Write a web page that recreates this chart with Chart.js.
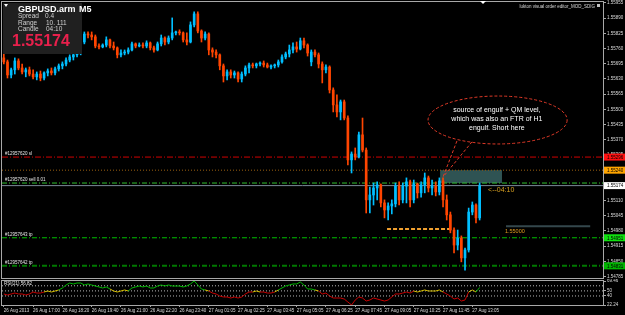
<!DOCTYPE html>
<html>
<head>
<meta charset="utf-8">
<script src="https://cdn.jsdelivr.net/npm/chart.js@4.4.1/dist/chart.umd.min.js"></script>
<style>
  html, body { margin:0; padding:0; background:#000; }
  #wrap { position:relative; width:625px; height:315px; overflow:hidden; background:#000; }
  canvas { position:absolute; left:0; }
  #main { top:0; }
  #rsi { top:279px; }
</style>
</head>
<body>
<div id="wrap">
  <canvas id="main" width="625" height="279"></canvas>
  <canvas id="rsi" width="625" height="36"></canvas>
</div>
<script>
// ---------------- DATA (GBPUSD.arm, 10-minute candles) ----------------
const opens = [1.55720,1.55703,1.55647,1.55669,1.55707,1.55677,1.55660,1.55669,1.55651,1.55639,
1.55651,1.55634,1.55656,1.55664,1.55656,1.55673,1.55686,1.55694,1.55711,1.55724,
1.55733,1.55745,1.55788,1.55822,1.55818,1.55810,1.55771,1.55767,1.55775,1.55797,
1.55771,1.55763,1.55733,1.55741,1.55745,1.55754,1.55780,1.55771,1.55775,1.55771,
1.55784,1.55763,1.55754,1.55780,1.55805,1.55788,1.55805,1.55827,1.55831,1.55827,
1.55797,1.55788,1.55861,1.55908,1.55835,1.55805,1.55822,1.55754,1.55745,1.55733,
1.55686,1.55643,1.55660,1.55647,1.55656,1.55630,1.55651,1.55677,1.55690,1.55686,
1.55694,1.55698,1.55690,1.55681,1.55686,1.55690,1.55703,1.55724,1.55737,1.55754,
1.55767,1.55758,1.55793,1.55775,1.55703,1.55745,1.55733,1.55694,1.55669,1.55681,
1.55583,1.55519,1.55489,1.55532,1.55463,1.55284,1.55309,1.55297,1.55391,1.55326,
1.55113,1.55134,1.55164,1.55177,1.55100,1.55070,1.55087,1.55096,1.55172,1.55113,
1.55172,1.55190,1.55113,1.55181,1.55143,1.55177,1.55207,1.55164,1.55172,1.55147,
1.55194,1.55113,1.55049,1.54984,1.54920,1.54950,1.54865,1.54899,1.55061,1.55091,
1.55036];
const highs = [1.55737,1.55711,1.55677,1.55720,1.55716,1.55694,1.55677,1.55681,1.55669,1.55660,
1.55664,1.55660,1.55673,1.55677,1.55681,1.55694,1.55703,1.55720,1.55733,1.55741,
1.55754,1.55810,1.55831,1.55831,1.55831,1.55818,1.55780,1.55780,1.55810,1.55801,
1.55788,1.55767,1.55754,1.55754,1.55763,1.55788,1.55784,1.55784,1.55784,1.55793,
1.55788,1.55771,1.55788,1.55818,1.55810,1.55814,1.55891,1.55835,1.55840,1.55831,
1.55827,1.55874,1.55917,1.55917,1.55840,1.55831,1.55827,1.55763,1.55754,1.55737,
1.55694,1.55669,1.55669,1.55664,1.55660,1.55660,1.55686,1.55698,1.55698,1.55698,
1.55703,1.55707,1.55698,1.55690,1.55694,1.55711,1.55733,1.55745,1.55775,1.55784,
1.55788,1.55805,1.55805,1.55780,1.55754,1.55754,1.55741,1.55703,1.55690,1.55686,
1.55592,1.55562,1.55540,1.55540,1.55472,1.55318,1.55335,1.55403,1.55463,1.55335,
1.55168,1.55185,1.55190,1.55181,1.55113,1.55100,1.55113,1.55185,1.55190,1.55185,
1.55207,1.55198,1.55198,1.55185,1.55190,1.55228,1.55215,1.55198,1.55190,1.55207,
1.55207,1.55134,1.55061,1.54993,1.54984,1.54959,1.54907,1.55078,1.55104,1.55096,
1.55185];
const lows = [1.55694,1.55634,1.55634,1.55651,1.55669,1.55651,1.55639,1.55643,1.55630,1.55626,
1.55622,1.55626,1.55643,1.55647,1.55647,1.55664,1.55673,1.55686,1.55703,1.55711,
1.55724,1.55733,1.55780,1.55805,1.55797,1.55763,1.55758,1.55763,1.55767,1.55763,
1.55754,1.55720,1.55724,1.55733,1.55737,1.55750,1.55763,1.55767,1.55763,1.55763,
1.55754,1.55745,1.55750,1.55771,1.55775,1.55780,1.55797,1.55818,1.55818,1.55788,
1.55775,1.55784,1.55852,1.55827,1.55788,1.55797,1.55733,1.55724,1.55720,1.55669,
1.55617,1.55626,1.55634,1.55634,1.55617,1.55617,1.55643,1.55656,1.55677,1.55677,
1.55686,1.55681,1.55677,1.55673,1.55677,1.55681,1.55698,1.55716,1.55724,1.55741,
1.55745,1.55754,1.55763,1.55728,1.55686,1.55724,1.55677,1.55613,1.55656,1.55570,
1.55489,1.55468,1.55455,1.55455,1.55262,1.55228,1.55284,1.55292,1.55318,1.55057,
1.55057,1.55091,1.55113,1.55083,1.55036,1.55027,1.55053,1.55083,1.55091,1.55100,
1.55100,1.55083,1.55100,1.55121,1.55125,1.55143,1.55147,1.55134,1.55130,1.55134,
1.55083,1.55027,1.54972,1.54886,1.54899,1.54848,1.54813,1.54890,1.55049,1.55014,
1.55027];
const closes = [1.55703,1.55647,1.55669,1.55707,1.55677,1.55660,1.55669,1.55651,1.55639,1.55651,
1.55634,1.55656,1.55664,1.55656,1.55673,1.55686,1.55694,1.55711,1.55724,1.55733,
1.55745,1.55788,1.55822,1.55818,1.55810,1.55771,1.55767,1.55775,1.55797,1.55771,
1.55763,1.55733,1.55741,1.55745,1.55754,1.55780,1.55771,1.55775,1.55771,1.55784,
1.55763,1.55754,1.55780,1.55805,1.55788,1.55805,1.55827,1.55831,1.55827,1.55797,
1.55788,1.55861,1.55908,1.55835,1.55805,1.55822,1.55754,1.55745,1.55733,1.55686,
1.55643,1.55660,1.55647,1.55656,1.55630,1.55651,1.55677,1.55690,1.55686,1.55694,
1.55698,1.55690,1.55681,1.55686,1.55690,1.55703,1.55724,1.55737,1.55754,1.55767,
1.55758,1.55793,1.55775,1.55741,1.55745,1.55733,1.55694,1.55669,1.55681,1.55583,
1.55519,1.55489,1.55532,1.55463,1.55284,1.55309,1.55297,1.55391,1.55326,1.55113,
1.55134,1.55164,1.55177,1.55100,1.55070,1.55087,1.55096,1.55172,1.55113,1.55172,
1.55190,1.55113,1.55181,1.55143,1.55177,1.55207,1.55164,1.55172,1.55147,1.55194,
1.55113,1.55049,1.54984,1.54920,1.54950,1.54865,1.54899,1.55061,1.55091,1.55036,
1.55174];
const rsiValues = [43.9,41.9,43.9,45.8,43.9,43.9,41.9,43.9,47.8,45.8,
45.8,47.8,49.8,47.8,49.8,51.8,55.7,61.6,65.5,63.6,
65.5,65.5,61.6,63.6,61.6,59.6,57.7,55.7,57.7,53.7,
49.8,47.8,49.8,51.8,49.8,55.7,57.7,59.6,57.7,59.6,
55.7,55.7,59.6,61.6,59.6,61.6,59.6,59.6,59.6,57.7,
59.6,63.6,69.46,61.6,53.7,51.8,49.8,45.8,43.9,39.9,
38.0,38.0,36.0,38.0,36.0,38.0,43.9,47.8,47.8,49.8,
47.8,47.8,45.8,45.8,47.8,51.8,55.7,59.6,61.6,63.6,
63.6,67.5,61.6,53.7,53.7,51.8,49.8,43.9,45.8,39.9,
36.0,36.0,36.0,34.0,28.1,22.24,32.1,38.0,36.0,30.1,
32.1,36.0,34.0,32.1,30.1,32.1,38.0,43.9,43.9,45.8,
47.8,45.8,49.8,47.8,49.8,51.8,49.8,49.8,49.8,51.8,
47.8,43.9,39.9,34.0,36.0,30.1,32.1,47.8,51.8,47.8,
56.82];
const timeLabels = ['26 Aug 2013','26 Aug 17:00','26 Aug 18:20','26 Aug 19:40','26 Aug 21:00','26 Aug 22:20',
  '26 Aug 23:40','27 Aug 01:05','27 Aug 02:25','27 Aug 03:45','27 Aug 05:05','27 Aug 06:25','27 Aug 07:45',
  '27 Aug 09:05','27 Aug 10:25','27 Aug 11:45','27 Aug 13:05'];
const labelEvery = 8;
const priceTicks = [1.55955,1.55890,1.55825,1.55760,1.55695,1.55630,1.55565,1.55500,1.55435,1.55370,
  1.55305,1.55240,1.55175,1.55110,1.55045,1.54980,1.54915,1.54850,1.54785];
const priceRange = [1.54779, 1.55959];
const rsiRange = [22.24, 69.46];
const rsiTicks = [69.46, 50, 40, 22.24];
const rsiLevels = [60, 50, 40];
const orderPrices = [1.55296, 1.55240, 1.55185, 1.55174, 1.54951, 1.54831];
const orderNames = ['#12957620 sl', '', '#12957620 sell 0.01', '', '#12957643 tp', '#12957642 tp'];
const tagPrices = [1.55296, 1.55240, 1.55174, 1.54951, 1.54831];
const bubbleText = ['source of engulf + QM level,', 'which was also an FTR of H1', 'engulf. Short here'];
const zonePrices = [1.55185, 1.55240];
const zoneBars = [119.2, 136.1];
const trendPrice = 1.54989;
const trendBars = [104.7, 121.9];
const roundPrice = 1.55000;
const roundBars = [137.2, 160.2];

// ---------------- STYLE / LAYOUT ----------------
const FONT = '"Liberation Sans", Arial, sans-serif';
const FRAME = '#a8a8a8';
const UP = '#00bfff', DOWN = '#ff4500';
const X_MIN = -0.5, X_MAX = 163.7;
const orderStyles = [
  {color:'#d00000', dash:[6,2,1,2], width:1},
  {color:'#9a6010', dash:[1,2], width:1},
  {color:'#30c030', dash:[5,2,1,2], width:1},
  {color:'#7a8898', dash:[], width:1},
  {color:'#00c000', dash:[5,2,1,2], width:1},
  {color:'#007800', dash:[5,2,1,2], width:2}
];
const tagColors = ['#ff1010', '#ffa500', '#ffffff', '#10e010', '#00b400'];
const ANN = {
  bubble: {x:[115.9, 153.9], y:[1.55557, 1.55352], tailBase:[[123.8,1.55365],[127.9,1.55361]], tip:[120.0,1.55211],
           textX:134.7, textY:[1.55495, 1.55457, 1.55420]},
  timer: {x:132.3, y:1.55153, text:'<--04:10'},
  roundLabel: {x:136.9, y:1.54990}
};

const isUp = closes.map((c, i) => c >= opens[i]);
const colors = isUp.map(u => u ? UP : DOWN);
const wickData = closes.map((c, i) => ({x: i, y: [lows[i], highs[i]]}));
const bodyData = closes.map((c, i) => ({x: i, y: [Math.min(opens[i], c), Math.max(opens[i], c)]}));

function hSeg(price, x0, x1, st, order) {
  return {type:'line', data:[{x:x0, y:price}, {x:x1, y:price}], borderColor:st.color, borderWidth:st.width,
          borderDash:st.dash, pointRadius:0, order:order, tension:0};
}

const datasets = [
  {type:'bar', data:wickData, backgroundColor:colors, barThickness:1, grouped:false, borderWidth:0, order:0},
  {type:'bar', data:bodyData, backgroundColor:colors, barThickness:2, grouped:false, borderWidth:0, minBarLength:1, order:0}
];
orderPrices.forEach((p, k) => datasets.push(hSeg(p, X_MIN, X_MAX, orderStyles[k], 2)));
datasets.push(hSeg(trendPrice, trendBars[0], trendBars[1], {color:'#f0a030', dash:[4,2], width:2}, 1));
datasets.push(hSeg(roundPrice, roundBars[0], roundBars[1], {color:'#34474c', dash:[], width:2}, 1));

const mainOverlay = {
  id: 'mainOverlay',
  beforeDatasetsDraw(chart) {
    const {ctx, scales:{x, y}} = chart;
    const x0 = x.getPixelForValue(zoneBars[0]), x1 = x.getPixelForValue(zoneBars[1]);
    const y0 = y.getPixelForValue(zonePrices[1]), y1 = y.getPixelForValue(zonePrices[0]);
    ctx.save();
    ctx.fillStyle = '#2f5353';
    ctx.fillRect(x0, y0, x1 - x0, y1 - y0);
    ctx.restore();
  },
  afterDraw(chart) {
    const {ctx, chartArea:a, scales:{x, y}} = chart;
    ctx.save();
    // frame
    ctx.strokeStyle = FRAME; ctx.lineWidth = 1; ctx.setLineDash([]);
    ctx.strokeRect(a.left - 0.5, a.top - 0.5, a.right - a.left + 1, a.bottom - a.top + 1);
    // order labels
    ctx.font = '4.5px ' + FONT; ctx.fillStyle = '#e6e6e6'; ctx.textAlign = 'left'; ctx.textBaseline = 'bottom';
    orderPrices.forEach((p, k) => { if (orderNames[k]) ctx.fillText(orderNames[k], a.left + 3, y.getPixelForValue(p) - 1); });
    // bubble
    const b = ANN.bubble;
    const bx0 = x.getPixelForValue(b.x[0]), bx1 = x.getPixelForValue(b.x[1]);
    const by0 = y.getPixelForValue(b.y[0]), by1 = y.getPixelForValue(b.y[1]);
    ctx.strokeStyle = '#e03a28'; ctx.lineWidth = 1; ctx.setLineDash([3, 2]);
    ctx.beginPath();
    ctx.ellipse((bx0 + bx1) / 2, (by0 + by1) / 2, (bx1 - bx0) / 2, (by1 - by0) / 2, 0, 0, Math.PI * 2);
    ctx.stroke();
    const tx = x.getPixelForValue(b.tip[0]), ty = y.getPixelForValue(b.tip[1]);
    b.tailBase.forEach(pt => {
      ctx.beginPath();
      ctx.moveTo(x.getPixelForValue(pt[0]), y.getPixelForValue(pt[1]));
      ctx.lineTo(tx, ty);
      ctx.stroke();
    });
    ctx.setLineDash([]);
    ctx.fillStyle = '#ffffff'; ctx.font = '7px ' + FONT; ctx.textAlign = 'center'; ctx.textBaseline = 'middle';
    bubbleText.forEach((t, k) => ctx.fillText(t, x.getPixelForValue(b.textX), y.getPixelForValue(b.textY[k])));
    // timer text
    ctx.fillStyle = '#d8a020'; ctx.font = '7px ' + FONT; ctx.textAlign = 'left';
    ctx.fillText(ANN.timer.text, x.getPixelForValue(ANN.timer.x), y.getPixelForValue(ANN.timer.y));
    // round number label
    ctx.font = '5.5px ' + FONT; ctx.textBaseline = 'top'; ctx.fillStyle = '#e09a20';
    ctx.fillText(roundPrice.toFixed(5), x.getPixelForValue(ANN.roundLabel.x), y.getPixelForValue(ANN.roundLabel.y));
    // price tags on the axis
    ctx.font = '4.5px ' + FONT; ctx.textBaseline = 'middle';
    tagPrices.forEach((p, k) => {
      const py = y.getPixelForValue(p);
      ctx.fillStyle = tagColors[k];
      ctx.fillRect(a.right + 1, py - 3.5, 625 - a.right - 1, 7);
      ctx.fillStyle = '#000000';
      ctx.fillText(p.toFixed(5), a.right + 4, py + 0.5);
    });
    // info box
    ctx.fillStyle = '#202020'; ctx.fillRect(3, 3, 79, 51);
    ctx.fillStyle = '#ffffff';
    ctx.beginPath(); ctx.moveTo(4, 4); ctx.lineTo(8, 4); ctx.lineTo(6, 7); ctx.closePath(); ctx.fill();
    ctx.textBaseline = 'alphabetic'; ctx.textAlign = 'left';
    ctx.font = 'bold 9px ' + FONT; ctx.fillText('GBPUSD.arm', 18, 12); ctx.fillText('M5', 79, 12);
    ctx.fillStyle = '#cfcfcf'; ctx.font = '6.5px ' + FONT;
    ctx.fillText('Spread', 18, 18); ctx.fillText('0.4', 45, 18);
    ctx.fillText('Range', 18, 24.5); ctx.fillText('10. 111', 46, 24.5);
    ctx.fillText('Candle', 18, 31); ctx.fillText('04:10', 46, 31);
    ctx.fillStyle = '#e8204c'; ctx.font = 'bold 16px ' + FONT;
    ctx.fillText(closes[closes.length - 1].toFixed(5), 12, 45.5);
    // top texts
    ctx.fillStyle = '#d8d8d8'; ctx.font = '4.5px ' + FONT; ctx.textAlign = 'right';
    ctx.fillText('lukton visual order editor_MOD_SDIG', 595, 7.5);
    ctx.fillStyle = '#c0c0c0'; ctx.fillRect(597, 4, 3, 3);
    ctx.fillStyle = '#ffffff';
    ctx.beginPath(); ctx.moveTo(480, 1); ctx.lineTo(486, 1); ctx.lineTo(483, 4); ctx.closePath(); ctx.fill();
    ctx.restore();
  }
};

new Chart(document.getElementById('main'), {
  type: 'bar',
  data: {datasets},
  options: {
    responsive: false, animation: false, devicePixelRatio: 1,
    layout: {padding: {left: 2, top: 2, bottom: 1, right: 0}},
    plugins: {legend: {display: false}, tooltip: {enabled: false}},
    scales: {
      x: {type: 'linear', min: X_MIN, max: X_MAX, display: false, offset: false},
      y: {
        type: 'linear', position: 'right', min: priceRange[0], max: priceRange[1],
        afterBuildTicks: s => { s.ticks = priceTicks.map(v => ({value: v})); },
        afterFit: s => { s.width = 22; s.paddingTop = 0; s.paddingBottom = 0; },
        ticks: {callback: v => Number(v).toFixed(5), color: '#dcdcdc', font: {family: FONT, size: 4.5}, padding: 1, autoSkip: false},
        grid: {drawOnChartArea: false, drawTicks: true, tickLength: 3, color: FRAME},
        border: {display: true, color: FRAME}
      }
    }
  },
  plugins: [mainOverlay]
});

// ---------------- RSI sub-window ----------------
function rsiColor(ctx) {
  const v = (ctx.p0.parsed.y + ctx.p1.parsed.y) / 2;
  return v > 52 ? '#00b800' : (v < 48 ? '#c80000' : '#d8c000');
}
const rsiDatasets = [
  {data: rsiValues.map((v, i) => ({x: i, y: v})), borderColor: '#00b800', borderWidth: 1, pointRadius: 0,
   segment: {borderColor: rsiColor}, order: 0, tension: 0}
];
rsiLevels.forEach(l => rsiDatasets.push({data: [{x: X_MIN, y: l}, {x: X_MAX, y: l}], borderColor: '#b8b8b8',
  borderDash: [1, 2], borderWidth: 1, pointRadius: 0, order: 1}));

const rsiOverlay = {
  id: 'rsiOverlay',
  afterDraw(chart) {
    const {ctx, chartArea: a} = chart;
    ctx.save();
    ctx.strokeStyle = FRAME; ctx.lineWidth = 1;
    ctx.strokeRect(a.left - 0.5, a.top - 0.5, a.right - a.left + 1, a.bottom - a.top + 1);
    ctx.fillStyle = '#e8e8e8'; ctx.font = '4.5px ' + FONT; ctx.textBaseline = 'top'; ctx.textAlign = 'left';
    ctx.fillText('RSI(21) ' + rsiValues[rsiValues.length - 1].toFixed(2), a.left + 2, a.top + 1);
    ctx.restore();
  }
};

new Chart(document.getElementById('rsi'), {
  type: 'line',
  data: {datasets: rsiDatasets},
  options: {
    responsive: false, animation: false, devicePixelRatio: 1,
    layout: {padding: {left: 2, top: 2, bottom: 0, right: 0}},
    plugins: {legend: {display: false}, tooltip: {enabled: false}},
    scales: {
      x: {
        type: 'linear', min: X_MIN, max: X_MAX, offset: false,
        afterBuildTicks: s => { s.ticks = timeLabels.map((t, k) => ({value: k * labelEvery})); },
        afterFit: s => { s.height = 10; s.paddingLeft = 0; s.paddingRight = 0; },
        ticks: {callback: v => timeLabels[Math.round(v / labelEvery)], align: 'start', maxRotation: 0, minRotation: 0,
                autoSkip: false, color: '#dcdcdc', font: {family: FONT, size: 4.5}, padding: 1},
        grid: {drawOnChartArea: false, drawTicks: true, tickLength: 2, color: FRAME},
        border: {display: true, color: FRAME}
      },
      y: {
        type: 'linear', position: 'right', min: rsiRange[0], max: rsiRange[1],
        afterBuildTicks: s => { s.ticks = rsiTicks.map(v => ({value: v})); },
        afterFit: s => { s.width = 22; s.paddingTop = 0; s.paddingBottom = 0; },
        ticks: {callback: v => (Number.isInteger(v) ? String(v) : Number(v).toFixed(2)), color: '#dcdcdc',
                font: {family: FONT, size: 4.5}, padding: 1, autoSkip: false},
        grid: {drawOnChartArea: false, drawTicks: true, tickLength: 3, color: FRAME},
        border: {display: true, color: FRAME}
      }
    }
  },
  plugins: [rsiOverlay]
});
</script>
</body>
</html>
